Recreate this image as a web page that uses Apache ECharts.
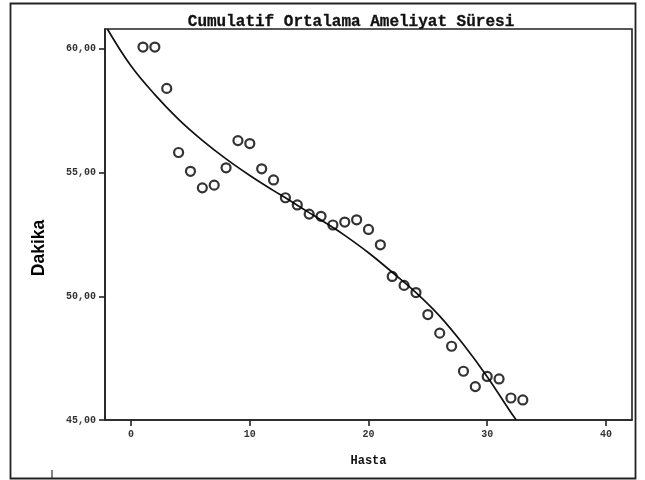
<!DOCTYPE html>
<html>
<head>
<meta charset="utf-8">
<script src="https://cdn.jsdelivr.net/npm/echarts@6/dist/echarts.min.js"></script>
<style>html,body{margin:0;padding:0;background:#fff}#c{width:645px;height:480px}</style>
</head>
<body>
<div id="c"></div>
<script>
// Observed cumulative means (Hasta = patient index)
var hasta = [1,2,3,4,5,6,7,8,9,10,11,12,13,14,15,16,17,18,19,20,21,22,23,24,25,26,27,28,29,30,31,32,33];
var dakika = [60.07,60.07,58.40,55.81,55.05,54.38,54.49,55.19,56.29,56.17,55.15,54.70,53.98,53.69,53.32,53.23,52.88,53.00,53.09,52.70,52.08,50.80,50.44,50.15,49.26,48.51,47.98,46.97,46.35,46.76,46.66,45.89,45.81];
// Fitted curve
var fitX = [-2.0,0,2,4,6,8,10,12,13,14,15,16,17,18,20,22,24,26,28,30,32,32.45];
var fitY = [60.8,59.3,58.15,57.15,56.3,55.55,54.88,54.27,53.98,53.68,53.38,53.08,52.78,52.46,51.76,50.97,50.15,49.2,48.05,46.75,45.3,45.0];
// Axis ticks and labels
var xTicks = [0,10,20,30,40];
var yTicks = [45,50,55,60];
var yTickLabels = ["45,00","50,00","55,00","60,00"];
var titleText = "Cumulatif Ortalama Ameliyat Süresi";
var xName = "Hasta";
var yName = "Dakika";

var scatterData = hasta.map(function(h,i){return [h, dakika[i]];});
var fitData = fitX.map(function(x,i){return [x, fitY[i]];});

var mono = "'Liberation Mono','DejaVu Sans Mono',monospace";
var chart = echarts.init(document.getElementById('c'), null, {renderer:'canvas'});
chart.setOption({
  backgroundColor:'#fff',
  animation:false,
  title:{
    text:titleText, left:346, top:9, textAlign:'center',
    textStyle:{fontFamily:mono, fontWeight:'bold', fontSize:16, color:'#111', textBorderColor:'#111', textBorderWidth:0.3}
  },
  grid:{left:105, right:13, top:29, bottom:60, show:true, borderColor:'#222', borderWidth:1.6, backgroundColor:'#fff'},
  xAxis:{
    type:'value', min:-2.2, max:42.2,
    name:xName, nameLocation:'middle', nameGap:35,
    nameTextStyle:{fontFamily:mono, fontWeight:'bold', fontSize:12, color:'#111'},
    axisLine:{show:true, onZero:false, lineStyle:{color:'#222', width:1.6}},
    axisTick:{show:true, length:6, customValues:xTicks, lineStyle:{color:'#222', width:1.6}},
    axisLabel:{customValues:xTicks, margin:9, fontFamily:mono, fontWeight:'bold', fontSize:10, color:'#333'},
    splitLine:{show:false}
  },
  yAxis:{
    type:'value', min:45, max:60.8,
    axisLine:{show:true, onZero:false, lineStyle:{color:'#222', width:1.6}},
    axisTick:{show:true, length:6, customValues:yTicks, lineStyle:{color:'#222', width:1.6}},
    axisLabel:{customValues:yTicks, margin:9, fontFamily:mono, fontWeight:'bold', fontSize:10, color:'#333',
      formatter:function(v){var i=yTicks.indexOf(Math.round(v)); return i>=0?yTickLabels[i]:'';}},
    splitLine:{show:false}
  },
  series:[
    {type:'line', data:fitData, smooth:0.4, showSymbol:false, symbol:'none', clip:true,
      lineStyle:{color:'#111', width:1.7}, z:2},
    {type:'scatter', data:scatterData, symbol:'circle', symbolSize:9,
      itemStyle:{color:'rgba(255,255,255,0)', borderColor:'#000', borderWidth:2.2}, z:3}
  ],
  graphic:[
    {type:'rect', shape:{x:10.5, y:3.5, width:625, height:475}, style:{fill:null, stroke:'#222', lineWidth:1.8}, silent:true},
    {type:'text', x:39, y:248, rotation:Math.PI/2, scaleX:0.92,
      style:{text:yName, fontFamily:"'Liberation Sans Narrow','Arial Narrow','Liberation Sans',sans-serif", fontWeight:'bold', fontSize:19, fill:'#000', align:'center', verticalAlign:'middle'}},
    {type:'line', shape:{x1:52, y1:470, x2:52, y2:478}, style:{stroke:'#333', lineWidth:1.2}}
  ]
});
</script>
</body>
</html>
